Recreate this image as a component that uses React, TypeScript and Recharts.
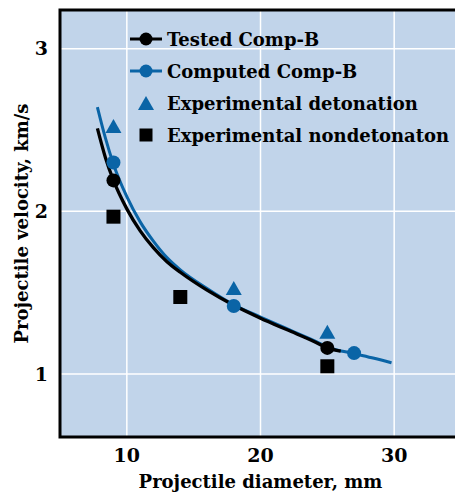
import React from 'react';
import { ComposedChart, Line, Scatter, XAxis, YAxis, CartesianGrid, ReferenceArea, Legend } from 'recharts';

const FONT = '"DejaVu Serif", serif';
const BLUE = '#0a64a6';
const PLOT_BG = '#c1d4ea';

// Curves (diameter mm -> velocity km/s)
const testedDiam = [7.8, 8.4, 9, 10, 11, 12, 13, 14, 16, 18, 20, 22, 24, 25, 26];
const testedVel = [2.51, 2.33, 2.19, 2.015, 1.88, 1.775, 1.69, 1.625, 1.515, 1.422, 1.343, 1.271, 1.2, 1.16, 1.14];

const computedDiam = [7.8, 8.4, 9, 10, 11, 12, 13, 14, 16, 18, 20, 22, 24, 25, 27, 28.5, 29.8];
const computedVel = [2.64, 2.45, 2.29, 2.09, 1.935, 1.815, 1.715, 1.64, 1.525, 1.425, 1.35, 1.277, 1.205, 1.165, 1.125, 1.096, 1.068];

// marker points on the curves
const testedMarkDiam = [9, 25];
const testedMarkVel = [2.19, 1.16];
const computedMarkDiam = [9, 18, 27];
const computedMarkVel = [2.3, 1.418, 1.128];

// experimental points
const detonDiam = [9, 18, 25];
const detonVel = [2.525, 1.529, 1.26];
const nondetonDiam = [9, 14, 25];
const nondetonVel = [1.967, 1.473, 1.047];

const xTicks = [10, 20, 30];
const yTicks = [1, 2, 3];

const legendLabels = ['Tested Comp-B', 'Computed Comp-B', 'Experimental detonation', 'Experimental nondetonaton'];

const pts = (xs: number[], ys: number[]) => xs.map((d, i) => ({ d, v: ys[i] }));

const Triangle = (props: any) => {
  const { cx, cy } = props;
  return <polygon points={`${cx - 8},${cy + 7} ${cx + 8},${cy + 7} ${cx},${cy - 7}`} fill={BLUE} />;
};

const Square = (props: any) => {
  const { cx, cy } = props;
  return <rect x={cx - 7} y={cy - 7} width={14} height={14} fill="#000" />;
};

function LegendIcon({ i }: { i: number }) {
  return (
    <svg width={36} height={20} style={{ display: 'block' }}>
      {i === 0 && <line x1={2} y1={10} x2={34} y2={10} stroke="#000" strokeWidth={3} />}
      {i === 0 && <circle cx={18} cy={10} r={6.5} fill="#000" />}
      {i === 1 && <line x1={2} y1={10} x2={34} y2={10} stroke={BLUE} strokeWidth={3} />}
      {i === 1 && <circle cx={18} cy={10} r={6.5} fill={BLUE} />}
      {i === 2 && <polygon points="10,17 26,17 18,3" fill={BLUE} />}
      {i === 3 && <rect x={11.5} y={3.5} width={13} height={13} fill="#000" />}
    </svg>
  );
}

function LegendBox() {
  return (
    <div style={{ fontFamily: FONT, fontWeight: 'bold', fontSize: 18, color: '#000' }}>
      {legendLabels.map((t, i) => (
        <div key={t} style={{ display: 'flex', alignItems: 'center', height: 32, whiteSpace: 'nowrap' }}>
          <LegendIcon i={i} />
          <span style={{ marginLeft: 3 }}>{t}</span>
        </div>
      ))}
    </div>
  );
}

const tickStyle = { fontFamily: FONT, fontWeight: 'bold', fontSize: 19, fill: '#000' };
const titleStyle = { fontFamily: FONT, fontWeight: 'bold', fontSize: 18, fill: '#000' };

export default function App() {
  return (
    <div style={{ width: 455, height: 493, overflow: 'hidden', position: 'fixed', top: 0, left: 0, background: '#fff' }}>
      <ComposedChart width={480} height={493} margin={{ top: 10, right: 19, left: 0, bottom: 0 }}>
        <CartesianGrid fill={PLOT_BG} fillOpacity={1} stroke="#fff" strokeWidth={1.5} />
        <XAxis
          type="number"
          dataKey="d"
          domain={[5, 35]}
          ticks={xTicks}
          height={56}
          tickLine={false}
          axisLine={false}
          tickSize={0}
          tickMargin={12}
          tick={tickStyle}
          allowDataOverflow
          label={{
            content: (p: any) => (
              <text x={p.viewBox.x + p.viewBox.width / 2} y={p.viewBox.y + 51} textAnchor="middle"
                style={titleStyle}>Projectile diameter, mm</text>
            ),
          }}
        />
        <YAxis
          type="number"
          dataKey="v"
          domain={[0.612, 3.238]}
          ticks={yTicks}
          width={60}
          tickLine={false}
          axisLine={false}
          tickSize={0}
          tickMargin={12}
          tick={tickStyle}
          allowDataOverflow
          label={{
            content: (p: any) => {
              const x = p.viewBox.x + 28;
              const y = p.viewBox.y + p.viewBox.height / 2;
              return (
                <text x={x} y={y} textAnchor="middle" transform={`rotate(-90, ${x}, ${y})`} style={titleStyle}>
                  Projectile velocity, km/s
                </text>
              );
            },
          }}
        />
        <ReferenceArea x1={5} x2={35} y1={0.612} y2={3.238} fill="none" stroke="#000" strokeWidth={3} ifOverflow="visible" />
        <Legend
          layout="horizontal"
          verticalAlign="middle"
          align="center"
          wrapperStyle={{ top: 23, left: 128, width: 330 }}
          content={() => <LegendBox />}
        />
        <Line data={pts(computedDiam, computedVel)} dataKey="v" type="monotone" stroke={BLUE} strokeWidth={3}
          dot={false} isAnimationActive={false} />
        <Line data={pts(computedMarkDiam, computedMarkVel)} dataKey="v" stroke="none"
          dot={{ r: 7, fill: BLUE, stroke: 'none' }} isAnimationActive={false} />
        <Line data={pts(testedDiam, testedVel)} dataKey="v" type="monotone" stroke="#000" strokeWidth={3.3}
          dot={false} isAnimationActive={false} />
        <Line data={pts(testedMarkDiam, testedMarkVel)} dataKey="v" stroke="none"
          dot={{ r: 7, fill: '#000', stroke: 'none' }} isAnimationActive={false} />
        <Scatter data={pts(detonDiam, detonVel)} dataKey="v" shape={Triangle} isAnimationActive={false} />
        <Scatter data={pts(nondetonDiam, nondetonVel)} dataKey="v" shape={Square} isAnimationActive={false} />
      </ComposedChart>
    </div>
  );
}
